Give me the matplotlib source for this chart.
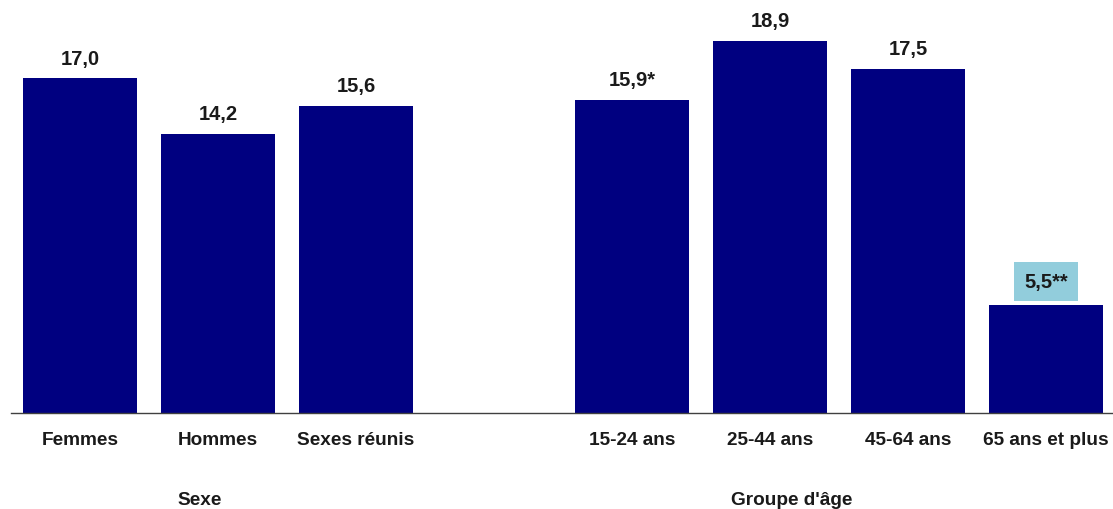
import matplotlib.pyplot as plt

plt.rcParams['font.family'] = ['Liberation Sans', 'DejaVu Sans']

categories = ["Femmes", "Hommes", "Sexes réunis", "15-24 ans", "25-44 ans", "45-64 ans", "65 ans et plus"]
values = [17.0, 14.2, 15.6, 15.9, 18.9, 17.5, 5.5]
value_labels = ["17,0", "14,2", "15,6", "15,9*", "18,9", "17,5", "5,5**"]
positions = [0, 1, 2, 4, 5, 6, 7]
groups = ["Sexe", "Groupe d'âge"]
group_x = [0.87, 5.16]

fig = plt.figure(figsize=(11.13, 5.10), dpi=100)
ax = fig.add_axes([11 / 1113, (510 - 414) / 510, 1104 / 1113, 372 / 510 * 19.3 / 18.9])

ax.bar(positions, values, width=0.833, color="#000080")
ax.set_xlim(-0.5, 7.5)
ax.set_ylim(0, 19.3)

for x, v, lab in zip(positions, values, value_labels):
    box = None
    off = 14.5
    if lab.endswith("**"):
        box = dict(boxstyle="square,pad=0.5", facecolor="#92CDDC", edgecolor="none")
        off = 16.5
    ax.annotate(lab, (x, v), xytext=(0, off), textcoords="offset points",
                ha="center", va="center", fontsize=14.5, fontweight="bold",
                color="#1a1a1a", bbox=box)

ax.set_xticks(positions)
ax.set_xticklabels(categories, fontsize=13.7, fontweight="bold", color="#1a1a1a")
ax.tick_params(axis="x", length=0, pad=13)
ax.set_yticks([])

for x, g in zip(group_x, groups):
    ax.text(x, -4.4, g, ha="center", va="center", fontsize=13.7,
            fontweight="bold", color="#1a1a1a")

for s in ["top", "right", "left"]:
    ax.spines[s].set_visible(False)
ax.spines["bottom"].set_color("#404040")
ax.spines["bottom"].set_linewidth(1.0)

fig.savefig("out.png", dpi=100)
